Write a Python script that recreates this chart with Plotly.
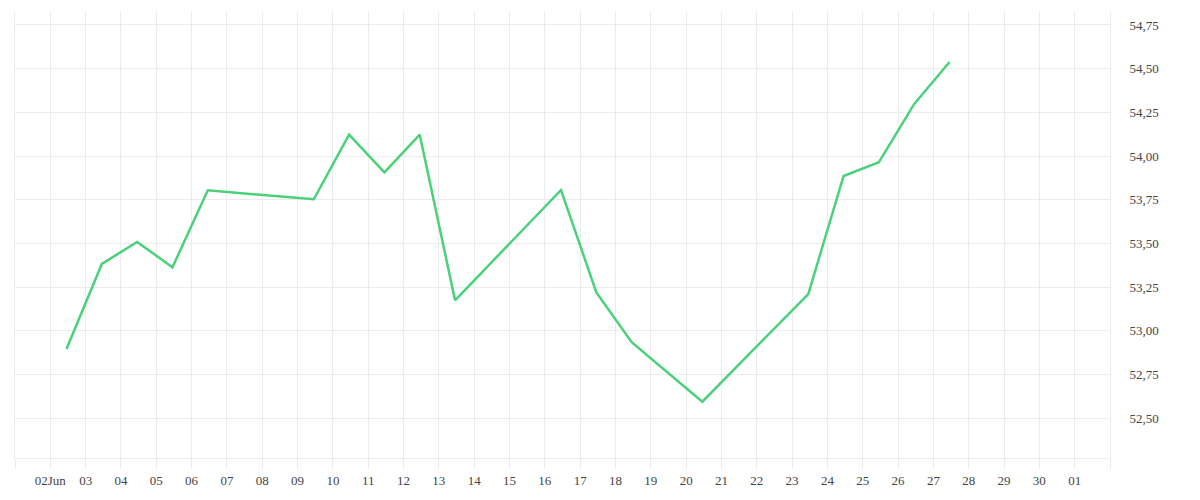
import plotly.graph_objects as go

dates = [
    "2018-06-02T11:00", "2018-06-03T11:00", "2018-06-04T11:00", "2018-06-05T11:00",
    "2018-06-06T11:00", "2018-06-09T11:00", "2018-06-10T11:00", "2018-06-11T11:00",
    "2018-06-12T11:00", "2018-06-13T11:00", "2018-06-16T11:00", "2018-06-17T11:00",
    "2018-06-18T11:00", "2018-06-20T11:00", "2018-06-23T11:00", "2018-06-24T11:00",
    "2018-06-25T11:00", "2018-06-26T11:00", "2018-06-27T11:00",
]
values = [
    52.896, 53.383, 53.509, 53.364, 53.804, 53.753, 54.122, 53.907,
    54.122, 53.175, 53.806, 53.220, 52.935, 52.595, 53.211, 53.886,
    53.965, 54.298, 54.538,
]

tick_dates = ["2018-06-%02d" % d for d in range(1, 31)] + ["2018-07-01", "2018-07-02"]
tick_labels = [""] + ["02Jun"] + ["%02d" % d for d in range(3, 31)] + ["01", ""]

y_ticks = [52.5, 52.75, 53.0, 53.25, 53.5, 53.75, 54.0, 54.25, 54.5, 54.75]

grid = "#ececec"
font = dict(family="Liberation Serif, Times New Roman, DejaVu Serif, serif", size=13, color="#444444")

fig = go.Figure()
fig.add_trace(go.Scatter(
    x=dates, y=values, mode="lines",
    line=dict(color="#4cd17b", width=2.5),
    hoverinfo="x+y",
))

fig.update_layout(
    width=1200, height=500,
    margin=dict(l=7, r=98, t=4, b=50),
    paper_bgcolor="white", plot_bgcolor="white",
    showlegend=False,
    separators=",.",
    font=font,
)
fig.update_xaxes(
    type="date",
    range=["2018-06-01", "2018-07-02"],
    tickmode="array", tickvals=tick_dates, ticktext=tick_labels,
    showgrid=True, gridcolor=grid, gridwidth=1,
    showline=True, linecolor=grid, linewidth=1,
    ticks="outside", ticklen=10, tickcolor=grid, tickwidth=1,
    tickfont=font, zeroline=False,
)
fig.update_yaxes(
    side="right",
    range=[52.273, 54.824],
    tickmode="array", tickvals=y_ticks,
    ticktext=[("%.2f" % v).replace(".", ",") for v in y_ticks],
    showgrid=True, gridcolor=grid, gridwidth=1,
    showline=True, mirror=True, linecolor=grid, linewidth=1,
    ticks="", ticklabelstandoff=16,
    tickfont=font, zeroline=False,
)

fig.write_html("out.html")
